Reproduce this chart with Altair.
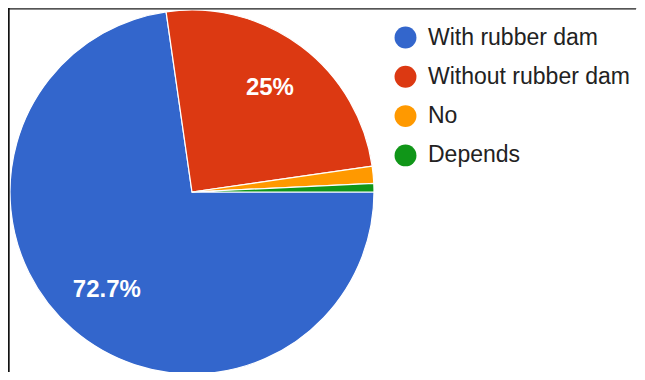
import math
import altair as alt
import pandas as pd

categories = ["With rubber dam", "Without rubber dam", "No", "Depends"]
counts = [192, 66, 4, 2]
slice_labels = ["72.7%", "25%", "", ""]
colors = ["#3366CC", "#DC3912", "#FF9900", "#109618"]

df = pd.DataFrame({
    "category": categories,
    "count": counts,
    "label": slice_labels,
    "order": list(range(len(categories))),
})

FONT = "Liberation Sans"
CX, CY, R = 184, 184, 182

theta = alt.Theta("count:Q", stack=True,
                  scale=alt.Scale(range=[math.pi / 2, math.pi / 2 + 2 * math.pi]))

base = alt.Chart(df).encode(
    theta=theta,
    order=alt.Order("order:Q"),
)

pie = base.mark_arc(radius=R, stroke="white", strokeWidth=1.2).encode(
    x=alt.value(CX),
    y=alt.value(CY),
    color=alt.Color(
        "category:N",
        sort=categories,
        scale=alt.Scale(domain=categories, range=colors),
        legend=alt.Legend(
            title=None,
            orient="none",
            legendX=386,
            legendY=18,
            symbolType="circle",
            symbolSize=480,
            symbolStrokeWidth=0,
            labelFontSize=23,
            labelFont=FONT,
            labelColor="#222222",
            labelOffset=11,
            rowPadding=15.3,
            padding=0,
            labelLimit=400,
        ),
    ),
)

text = base.mark_text(radius=130, font=FONT, fontSize=24, fontWeight="bold",
                      color="white").encode(
    x=alt.value(CX),
    y=alt.value(CY),
    text="label:N",
)

top_line = alt.Chart(df).mark_rule(color="#555555", strokeWidth=1.5).encode(
    x=alt.value(0), x2=alt.value(628), y=alt.value(0.5)
)
left_line = alt.Chart(df).mark_rule(color="#111111", strokeWidth=1.5).encode(
    x=alt.value(0.5), y=alt.value(0), y2=alt.value(364)
)

chart = alt.layer(pie, text, top_line, left_line).properties(
    width=629, height=364, padding=0,
    autosize=alt.AutoSizeParams(type="none"),
).configure_view(stroke=None).configure(background="white")

chart.save("out.html", embed_options={"renderer": "svg", "actions": False})
